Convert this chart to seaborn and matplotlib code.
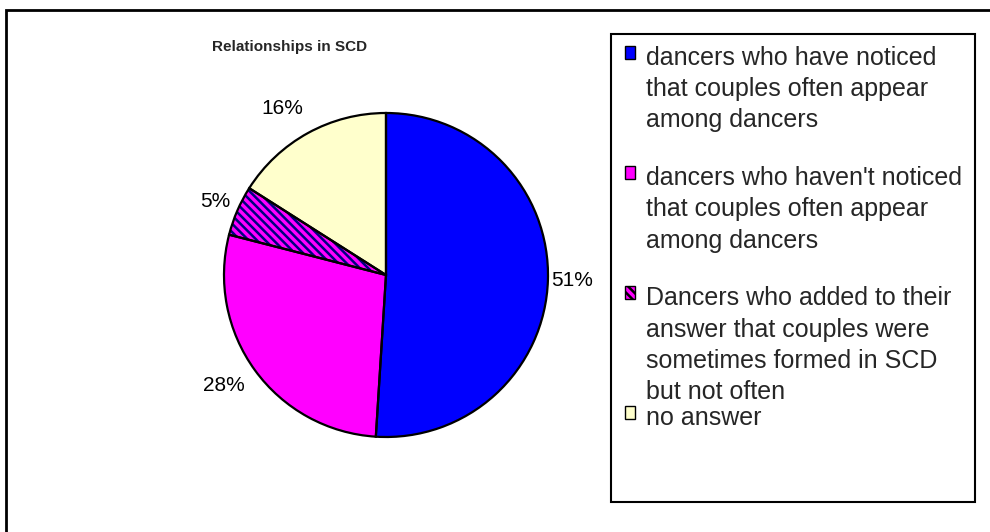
import matplotlib
matplotlib.use("Agg")
import matplotlib.pyplot as plt
import matplotlib.patches as mpatches
import seaborn as sns

# data
shares = [51, 28, 5, 16]
slice_colors = ["#0000FF", "#FF00FF", "#FF00FF", "#FFFFCC"]
slice_hatches = [None, None, "\\\\\\\\", None]
legend_labels = [
    "dancers who have noticed\nthat couples often appear\namong dancers\n",
    "dancers who haven't noticed\nthat couples often appear\namong dancers\n",
    "Dancers who added to their\nanswer that couples were\nsometimes formed in SCD\nbut not often",
    "no answer",
]
title = "Relationships in SCD"

sns.set_theme(style="white")
plt.rcParams["font.family"] = ["Liberation Sans", "DejaVu Sans"]
plt.rcParams["hatch.linewidth"] = 1.8

W, H = 990, 532
fig = plt.figure(figsize=(W / 100, H / 100), dpi=100)
fig.patch.set_facecolor("white")

# pie: centre (386, 275) px, radius 162 px
cx, cy, r = 386, 275, 162
ax = fig.add_axes([(cx - r) / W, (H - cy - r) / H, 2 * r / W, 2 * r / H])

wedges, texts, autotexts = ax.pie(
    shares, colors=slice_colors, startangle=90, counterclock=False,
    autopct="%1.0f%%", pctdistance=1.15,
    wedgeprops=dict(linewidth=0, edgecolor="#000080"),
    textprops=dict(fontsize=15, color="black"))
for w, h in zip(wedges, slice_hatches):
    if h:
        w.set_hatch(h)

# Excel-style placement of two of the percentage labels
autotexts[1].set_position((-1.0, -0.68))
autotexts[3].set_position((-0.64, 1.03))

# black outlines on top
ax.pie(shares, startangle=90, counterclock=False,
       wedgeprops=dict(linewidth=1.6, edgecolor="black", fill=False))
ax.set_xlim(-1, 1)
ax.set_ylim(-1, 1)

fig.text(290 / W, 1 - 47 / H, title, ha="center", va="center",
         fontsize=11, fontweight="bold")

# legend
handles = [mpatches.Patch(facecolor=c, edgecolor="black", hatch=h, linewidth=1)
           for c, h in zip(slice_colors, slice_hatches)]
leg = fig.legend(handles, legend_labels, loc="upper left",
                 bbox_to_anchor=(625 / W, 1 - 46 / H), frameon=False,
                 fontsize=18, borderpad=0, borderaxespad=0,
                 handlelength=0.4, handleheight=0.4, handletextpad=0.45,
                 labelspacing=0.1)
for t in leg.get_texts():
    t.set_linespacing(1.38)
for col in leg._legend_handle_box.get_children():
    for item in col.get_children():
        item.align = "top"

fig.add_artist(mpatches.Rectangle((611 / W, 1 - 502 / H), 364 / W, 468 / H,
                                  transform=fig.transFigure, fill=False,
                                  edgecolor="black", linewidth=1.5))
# outer chart frame (runs off the right and bottom edges)
fig.add_artist(mpatches.Rectangle((6 / W, -0.2), 1.2, 0.2 + 1 - 10 / H,
                                  transform=fig.transFigure, fill=False,
                                  edgecolor="black", linewidth=2))

fig.savefig("out.png", dpi=100)
